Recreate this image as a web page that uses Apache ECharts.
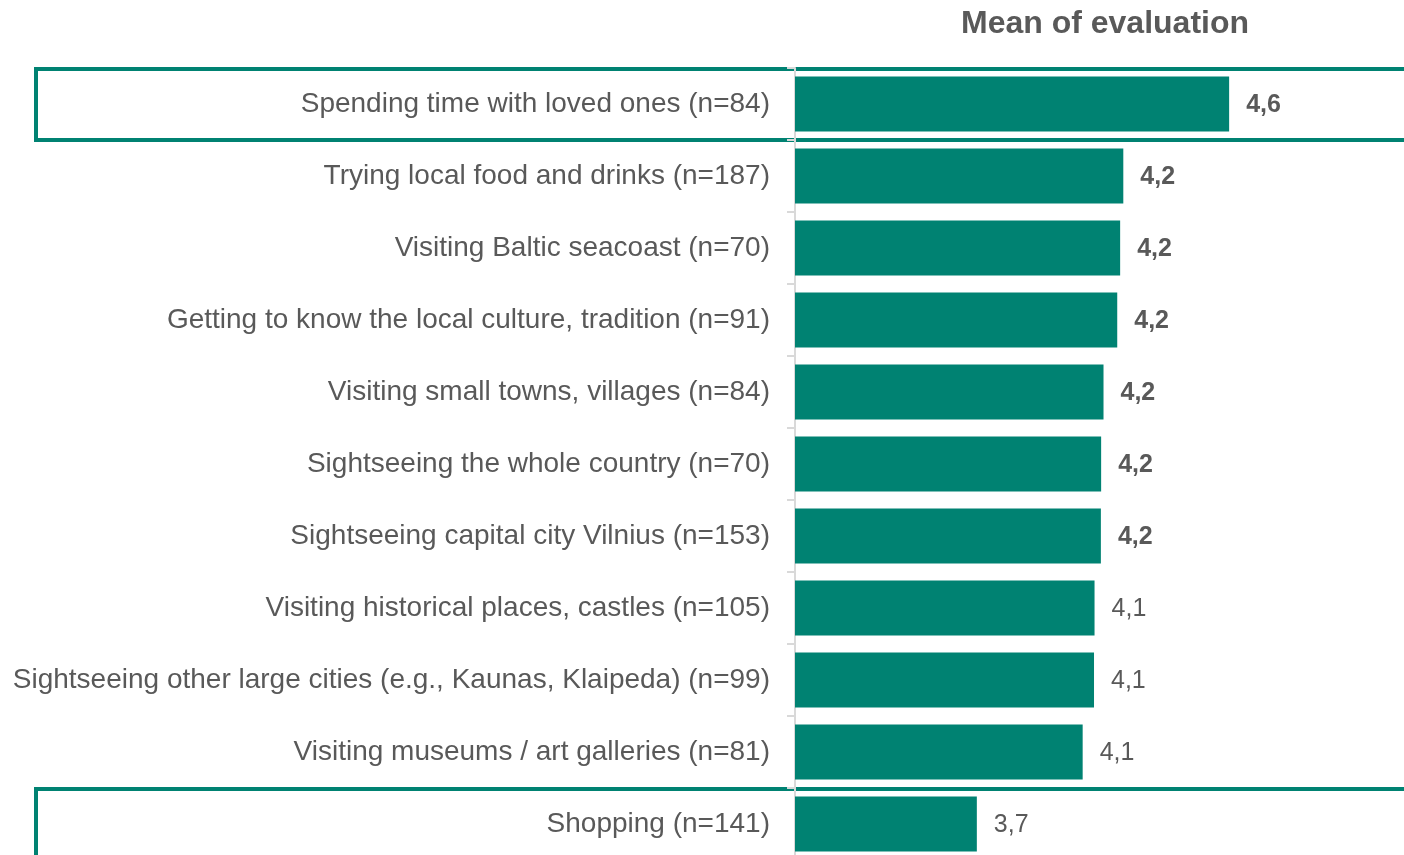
<!DOCTYPE html>
<html>
<head>
<meta charset="utf-8">
<script src="https://cdn.jsdelivr.net/npm/echarts@6/dist/echarts.min.js"></script>
<style>
  html, body { margin: 0; padding: 0; background: #ffffff; }
  #chart { width: 1404px; height: 855px; }
</style>
</head>
<body>
<div id="chart"></div>
<script>
// Activities and their mean evaluation scores
const categories = [
  'Spending time with loved ones (n=84)',
  'Trying local food and drinks (n=187)',
  'Visiting Baltic seacoast (n=70)',
  'Getting to know the local culture, tradition (n=91)',
  'Visiting small towns, villages (n=84)',
  'Sightseeing the whole country (n=70)',
  'Sightseeing capital city Vilnius (n=153)',
  'Visiting historical places, castles (n=105)',
  'Sightseeing other large cities (e.g., Kaunas, Klaipeda) (n=99)',
  'Visiting museums / art galleries (n=81)',
  'Shopping (n=141)'
];
const meanValues = [4.645, 4.244, 4.232, 4.221, 4.169, 4.160, 4.159, 4.135, 4.133, 4.090, 3.689];
// Scores printed in bold
const boldLabels = [true, true, true, true, true, true, true, false, false, false, false];
// Rows framed with an outline (highest and lowest)
const framedRows = [0, 10];
const chartTitle = 'Mean of evaluation';

const TEAL = '#008272';
const TEXT = '#595959';
const FONT = "'Liberation Sans', Arial, sans-serif";

const chart = echarts.init(document.getElementById('chart'), null, { renderer: 'canvas' });

const option = {
  animation: false,
  backgroundColor: '#ffffff',
  title: {
    text: chartTitle,
    left: 1100,
    top: 3,
    textAlign: 'center',
    textStyle: { fontFamily: FONT, fontSize: 32, fontWeight: 'bold', color: TEXT }
  },
  grid: {
    left: 795, right: 2, top: 68, height: 792,
    containLabel: false,
    outerBoundsMode: 'none'
  },
  xAxis: {
    type: 'value',
    min: 3,
    max: 5.3,
    show: false,
    splitLine: { show: false }
  },
  yAxis: {
    type: 'category',
    inverse: true,
    data: categories,
    axisLine: { show: true, lineStyle: { color: '#d9d9d9', width: 2 } },
    axisTick: { show: true, length: 8, lineStyle: { color: '#d9d9d9', width: 2 } },
    axisLabel: {
      margin: 25,
      fontFamily: FONT,
      fontSize: 28,
      color: TEXT,
      padding: [3, 0, 0, 0]
    }
  },
  series: [{
    type: 'bar',
    barWidth: 55,
    itemStyle: { color: TEAL },
    label: {
      show: true,
      position: 'right',
      distance: 17,
      offset: [0, 1],
      fontFamily: FONT,
      fontSize: 25,
      color: TEXT,
      formatter: p => p.value.toFixed(1).replace('.', ',')
    },
    data: meanValues.map((v, i) => ({
      value: v,
      label: { fontWeight: boldLabels[i] ? 'bold' : 'normal' }
    }))
  }]
};

chart.setOption(option);

// Outline frames around selected rows, sized to the category band
const y0 = chart.convertToPixel({ yAxisIndex: 0 }, 0);
const y1 = chart.convertToPixel({ yAxisIndex: 0 }, 1);
const half = Math.abs(y1 - y0) / 2;
chart.setOption({
  graphic: framedRows.map(idx => {
    const cy = chart.convertToPixel({ yAxisIndex: 0 }, idx);
    return {
      type: 'rect',
      z: 0,
      silent: true,
      shape: { x: 36, y: cy - half + 1, width: 1420, height: 2 * half - 1 },
      style: { fill: 'none', stroke: TEAL, lineWidth: 4 }
    };
  })
});
</script>
</body>
</html>
